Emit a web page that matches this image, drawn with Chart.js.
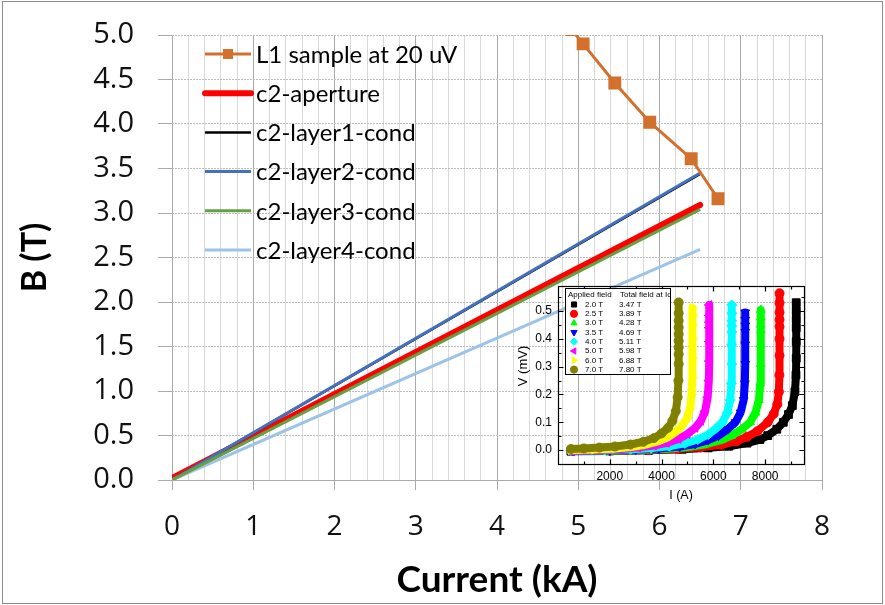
<!DOCTYPE html>
<html>
<head>
<meta charset="utf-8">
<script src="https://cdn.jsdelivr.net/npm/chart.js@4.4.1/dist/chart.umd.min.js"></script>
<style>
    html, body { margin: 0; padding: 0; background: #fff; }
    #wrap { position: relative; width: 885px; height: 605px; overflow: hidden; }
    #mainChart { position: absolute; left: 0; top: 0; }
    #insetChart { position: absolute; left: 515px; top: 276px; }
    #frame { position: absolute; left: 2px; top: 1px; width: 881px; height: 603px; border: 1px solid #8c8c8c; box-sizing: border-box; pointer-events: none; }
</style>
</head>
<body>
<div id="wrap">
    <canvas id="mainChart" width="885" height="605"></canvas>
    <canvas id="insetChart" width="300" height="231"></canvas>
    <div id="frame"></div>
</div>
<script>
// main chart: B (T) vs current (kA)
const sampleCurrent = [4.92, 5.06, 5.45, 5.88, 6.39, 6.72];
const sampleField = [5.06, 4.90, 4.46, 4.02, 3.61, 3.16];

const c2Current = [0, 6.5];
const c2Aperture = [0.02, 3.09];
const c2Layer1 = [0, 3.44];
const c2Layer2 = [0, 3.45];
const c2Layer3 = [0, 3.04];
const c2Layer4 = [0, 2.59];

// inset: V (mV) vs I (A), one list of [I, V] per applied field
const iv20 = [[500,-0.004],[2000,-0.003],[3500,-0.001],[4800,0.003],[5800,0.008],[6600,0.014],[7300,0.025],[7800,0.038],[8100,0.052],[8450,0.075],[8700,0.100],[8900,0.128],[9050,0.160],[9150,0.210],[9190,0.270],[9200,0.330],[9200,0.390],[9200,0.440],[9200,0.470],[9200,0.500],[9200,0.530]];
const iv25 = [[500,-0.003],[2000,-0.002],[3500,0.000],[4600,0.004],[5500,0.010],[6300,0.019],[6900,0.032],[7300,0.048],[7700,0.068],[8100,0.100],[8330,0.130],[8470,0.165],[8530,0.210],[8550,0.270],[8555,0.340],[8555,0.400],[8555,0.444],[8555,0.469],[8555,0.495],[8555,0.529],[8555,0.564]];
const iv30 = [[500,-0.003],[2000,-0.002],[3200,0.001],[4200,0.005],[5000,0.011],[5700,0.021],[6300,0.036],[6700,0.052],[7100,0.075],[7420,0.100],[7630,0.135],[7760,0.180],[7810,0.240],[7830,0.310],[7830,0.380],[7830,0.430],[7830,0.451],[7830,0.477],[7830,0.504]];
const iv35 = [[500,-0.003],[2000,-0.001],[3000,0.002],[3900,0.006],[4700,0.013],[5300,0.022],[5800,0.036],[6200,0.052],[6550,0.075],[6850,0.100],[7050,0.135],[7170,0.180],[7215,0.240],[7230,0.310],[7230,0.380],[7230,0.425],[7230,0.448],[7230,0.469],[7230,0.495]];
const iv40 = [[500,-0.002],[1800,0.000],[2800,0.003],[3600,0.007],[4300,0.014],[4900,0.024],[5400,0.038],[5800,0.056],[6100,0.078],[6350,0.100],[6540,0.135],[6650,0.180],[6695,0.240],[6710,0.310],[6710,0.380],[6710,0.425],[6710,0.447],[6710,0.465],[6710,0.492],[6710,0.522]];
const iv50 = [[500,-0.002],[1500,0.000],[2400,0.004],[3100,0.009],[3700,0.016],[4200,0.026],[4650,0.040],[5000,0.058],[5300,0.080],[5520,0.105],[5680,0.140],[5780,0.190],[5825,0.250],[5840,0.320],[5840,0.390],[5840,0.440],[5840,0.460],[5840,0.484],[5840,0.522]];
const iv60 = [[500,0.000],[1400,0.002],[2200,0.006],[2900,0.012],[3400,0.020],[3850,0.031],[4250,0.046],[4550,0.065],[4800,0.088],[4980,0.115],[5100,0.150],[5160,0.200],[5185,0.260],[5190,0.330],[5190,0.400],[5190,0.450],[5190,0.484],[5190,0.511]];
const iv70 = [[500,0.004],[1000,0.006],[1600,0.009],[2200,0.013],[2800,0.020],[3300,0.030],[3700,0.043],[4000,0.060],[4250,0.080],[4420,0.105],[4550,0.140],[4620,0.190],[4650,0.250],[4660,0.310],[4660,0.345],[4660,0.369],[4660,0.393],[4660,0.417],[4660,0.441],[4660,0.465],[4660,0.492],[4660,0.531]];

const appliedField = ['2.0 T', '2.5 T', '3.0 T', '3.5 T', '4.0 T', '5.0 T', '6.0 T', '7.0 T'];
const totalField = ['3.47 T', '3.89 T', '4.28 T', '4.69 T', '5.11 T', '5.98 T', '6.88 T', '7.80 T'];
const insetCurrentTicks = [1000, 2000, 3000, 4000, 5000, 6000, 7000, 8000, 9000];
const insetVoltageTicks = [0, 0.05, 0.1, 0.15, 0.2, 0.25, 0.3, 0.35, 0.4, 0.45, 0.5, 0.55];

const insetCurves = [iv20, iv25, iv30, iv35, iv40, iv50, iv60, iv70];
const insetColors = ['#000000', '#ff0000', '#00ff00', '#0000ff', '#00ffff', '#ff00ff', '#ffff00', '#808000'];
const insetMarkers = ['rect', 'circle', 'triangle', 'triangle', 'rectRot', 'triangle', 'triangle', 'circle'];
const insetRotation = [0, 0, 0, 180, 0, -90, 90, 0];
const insetRadius = [5.5, 4.5, 5, 5, 5, 5, 5, 4.5];

const toXY = (xs, ys) => xs.map((x, i) => ({ x: x, y: ys[i] }));
const pairs = list => list.map(p => ({ x: p[0], y: p[1] }));
const isWhole = v => Math.abs(v - Math.round(v)) < 1e-6;

// legend drawn inside the plot, no box (Excel style)
const mainLegend = {
    id: 'mainLegend',
    afterDatasetsDraw(chart) {
        const ctx = chart.ctx;
        ctx.save();
        ctx.font = '24px Lato';
        ctx.textBaseline = 'middle';
        chart.data.datasets.forEach((ds, i) => {
            const y = 54 + i * 39.2;
            ctx.strokeStyle = ds.borderColor;
            ctx.lineWidth = ds.borderWidth;
            ctx.lineCap = ds.borderCapStyle || 'butt';
            ctx.beginPath();
            ctx.moveTo(205, y);
            ctx.lineTo(251, y);
            ctx.stroke();
            if (ds.pointRadius > 0) {
                ctx.fillStyle = ds.pointBackgroundColor;
                ctx.fillRect(223, y - 5, 10, 10);
            }
            ctx.fillStyle = '#000';
            ctx.fillText(ds.label, 256, y + 1);
        });
        ctx.restore();
    }
};

new Chart(document.getElementById('mainChart'), {
    type: 'line',
    data: {
        datasets: [
            {
                label: 'L1 sample at 20 uV',
                data: toXY(sampleCurrent, sampleField),
                borderColor: '#d2702d',
                backgroundColor: '#d2702d',
                pointBackgroundColor: '#d2702d',
                pointBorderColor: '#d2702d',
                borderWidth: 3,
                pointStyle: 'rect',
                pointRadius: 7,
                order: 1
            },
            {
                label: 'c2-aperture',
                data: toXY(c2Current, c2Aperture),
                borderColor: '#ff0000',
                borderWidth: 6,
                borderCapStyle: 'round',
                pointRadius: 0,
                order: 5
            },
            {
                label: 'c2-layer1-cond',
                data: toXY(c2Current, c2Layer1),
                borderColor: '#000000',
                borderWidth: 2.5,
                pointRadius: 0,
                order: 4
            },
            {
                label: 'c2-layer2-cond',
                data: toXY(c2Current, c2Layer2),
                borderColor: '#4470be',
                borderWidth: 3,
                pointRadius: 0,
                order: 3
            },
            {
                label: 'c2-layer3-cond',
                data: toXY(c2Current, c2Layer3),
                borderColor: '#62a243',
                borderWidth: 3,
                pointRadius: 0,
                order: 2
            },
            {
                label: 'c2-layer4-cond',
                data: toXY(c2Current, c2Layer4),
                borderColor: '#9dc3e6',
                borderWidth: 3,
                pointRadius: 0,
                order: 2
            }
        ]
    },
    options: {
        responsive: false,
        animation: false,
        layout: { padding: { top: 35, right: 63, left: 0, bottom: 0 } },
        plugins: { legend: { display: false }, tooltip: { enabled: false } },
        scales: {
            x: {
                type: 'linear',
                min: 0,
                max: 8,
                afterFit: s => { s.height = 125; s.paddingLeft = 0; s.paddingRight = 0; },
                ticks: {
                    stepSize: 0.2,
                    autoSkip: false,
                    maxRotation: 0,
                    minRotation: 0,
                    padding: 20,
                    color: '#111',
                    font: { family: 'Open Sans', size: 28 },
                    callback: v => isWhole(v) ? String(Math.round(v)) : ''
                },
                grid: {
                    color: c => isWhole(c.tick.value) ? '#a9a9a9' : '#d9d9d9',
                    tickColor: c => isWhole(c.tick.value) ? '#a9a9a9' : 'rgba(0,0,0,0)',
                    tickLength: 10
                },
                border: { display: true, color: '#a9a9a9' },
                title: {
                    display: true,
                    text: 'Current (kA)',
                    color: '#000',
                    font: { family: 'Lato', size: 37, weight: 'bold' },
                    padding: { top: 0, bottom: 3 }
                }
            },
            y: {
                type: 'linear',
                min: 0,
                max: 5,
                afterFit: s => { s.width = 172; s.paddingTop = 0; s.paddingBottom = 0; },
                ticks: {
                    stepSize: 0.5,
                    padding: 24,
                    color: '#111',
                    font: { family: 'Open Sans', size: 29 },
                    callback: v => v.toFixed(1)
                },
                grid: { color: '#bdbdbd', tickColor: '#a9a9a9', tickLength: 14 },
                border: { display: false, dash: [2, 1] },
                title: {
                    display: true,
                    text: 'B (T)',
                    color: '#000',
                    font: { family: 'Lato', size: 34, weight: 'bold' },
                    padding: { top: 15, bottom: 0 }
                }
            }
        }
    },
    plugins: [mainLegend]
});

// inset: box frame, inward ticks, y title and its legend
function drawMarker(ctx, style, rotation, r, x, y) {
    if (Chart.helpers && Chart.helpers.drawPoint) {
        Chart.helpers.drawPoint(ctx, { pointStyle: style, rotation: rotation, radius: r, borderWidth: 1 }, x, y);
    } else {
        ctx.beginPath();
        ctx.arc(x, y, r, 0, Math.PI * 2);
        ctx.fill();
    }
}

const insetDecor = {
    id: 'insetDecor',
    afterDatasetsDraw(chart) {
        const { ctx, chartArea: a, scales: { x, y } } = chart;
        const left = Math.round(a.left) + 0.5;
        const top = Math.round(a.top) + 0.5;
        const right = Math.round(a.right) + 0.5;
        const bottom = Math.round(a.bottom) + 0.5;
        ctx.save();
        ctx.strokeStyle = '#000';
        ctx.lineWidth = 1.2;
        ctx.strokeRect(left, top, right - left, bottom - top);
        ctx.beginPath();
        insetCurrentTicks.forEach(v => {
            const px = Math.round(x.getPixelForValue(v)) + 0.5;
            const len = v % 2000 ? 3 : 5;
            ctx.moveTo(px, bottom); ctx.lineTo(px, bottom - len);
            ctx.moveTo(px, top); ctx.lineTo(px, top + len);
        });
        insetVoltageTicks.forEach(v => {
            const py = Math.round(y.getPixelForValue(v)) + 0.5;
            const len = Math.round(v * 100) % 10 ? 3 : 5;
            ctx.moveTo(left, py); ctx.lineTo(left + len, py);
            ctx.moveTo(right, py); ctx.lineTo(right - len, py);
        });
        ctx.stroke();

        // y title sits a bit above the axis centre
        ctx.save();
        ctx.translate(8, 90);
        ctx.rotate(-Math.PI / 2);
        ctx.fillStyle = '#000';
        ctx.font = '13px "Liberation Sans"';
        ctx.textAlign = 'center';
        ctx.textBaseline = 'middle';
        ctx.fillText('V (mV)', 0, 0);
        ctx.restore();

        // legend box
        const bx = a.left + 7, by = a.top + 2, bw = 105, bh = 86;
        ctx.fillStyle = '#fff';
        ctx.fillRect(bx, by, bw, bh);
        ctx.lineWidth = 1;
        ctx.strokeRect(Math.round(bx) + 0.5, Math.round(by) + 0.5, bw, bh);
        ctx.fillStyle = '#000';
        ctx.font = '8px "Liberation Sans"';
        ctx.textBaseline = 'middle';
        ctx.fillText('Applied field', bx + 3, by + 7);
        ctx.fillText('Total field at Ic', bx + 55, by + 7);
        chart.data.datasets.forEach((ds, i) => {
            const ry = by + 16.5 + i * 9.3;
            ctx.fillStyle = ds.pointBackgroundColor;
            ctx.strokeStyle = ds.pointBackgroundColor;
            drawMarker(ctx, ds.pointStyle, ds.pointRotation, 3.6, bx + 9, ry);
            ctx.fillStyle = '#000';
            ctx.fillText(appliedField[i], bx + 20, ry);
            ctx.fillText(totalField[i], bx + 54, ry);
        });
        ctx.restore();
    }
};

new Chart(document.getElementById('insetChart'), {
    type: 'line',
    data: {
        datasets: insetCurves.map((curve, i) => ({
            label: appliedField[i],
            data: pairs(curve),
            borderColor: insetColors[i],
            backgroundColor: insetColors[i],
            pointBackgroundColor: insetColors[i],
            pointBorderColor: insetColors[i],
            borderWidth: 8,
            borderCapStyle: 'round',
            borderJoinStyle: 'round',
            pointStyle: insetMarkers[i],
            pointRotation: insetRotation[i],
            pointRadius: insetRadius[i],
            pointBorderWidth: 1,
            tension: 0,
            order: insetCurves.length - i
        }))
    },
    options: {
        responsive: false,
        animation: false,
        layout: { padding: { top: 10, right: 11, left: 0, bottom: 0 } },
        plugins: { legend: { display: false }, tooltip: { enabled: false } },
        scales: {
            x: {
                type: 'linear',
                min: 0,
                max: 9500,
                afterBuildTicks: s => { s.ticks = insetCurrentTicks.map(v => ({ value: v })); },
                afterFit: s => { s.height = 43; s.paddingLeft = 0; s.paddingRight = 0; },
                ticks: {
                    autoSkip: false,
                    maxRotation: 0,
                    padding: 5,
                    color: '#000',
                    font: { family: 'Liberation Sans', size: 12 },
                    callback: v => v % 2000 === 0 ? String(v) : ''
                },
                grid: { display: false, drawTicks: false },
                border: { display: false },
                title: {
                    display: true,
                    text: 'I (A)',
                    color: '#000',
                    font: { family: 'Liberation Sans', size: 12.5 },
                    padding: { top: 0, bottom: 4 }
                }
            },
            y: {
                type: 'linear',
                min: -0.05,
                max: 0.59,
                afterBuildTicks: s => { s.ticks = insetVoltageTicks.map(v => ({ value: v })); },
                afterFit: s => { s.width = 43; s.paddingTop = 0; s.paddingBottom = 0; },
                ticks: {
                    autoSkip: false,
                    padding: 6,
                    color: '#000',
                    font: { family: 'Liberation Sans', size: 12 },
                    callback: v => Math.round(v * 100) % 10 === 0 ? v.toFixed(1) : ''
                },
                grid: { display: false, drawTicks: false },
                border: { display: false },
                title: { display: false }
            }
        }
    },
    plugins: [insetDecor]
});
</script>
</body>
</html>
